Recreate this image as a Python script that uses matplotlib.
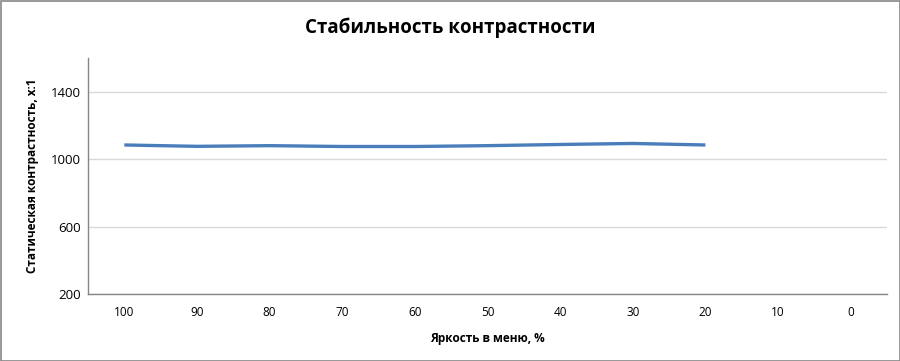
import matplotlib
matplotlib.use("Agg")
import matplotlib.pyplot as plt
from matplotlib.patches import Rectangle

categories = ["100", "90", "80", "70", "60", "50", "40", "30", "20", "10", "0"]
contrast = [1084, 1076, 1080, 1075, 1075, 1080, 1087, 1093, 1084]
yticks = [200, 600, 1000, 1400]

plt.rcParams['font.family'] = ['Open Sans', 'DejaVu Sans']

fig = plt.figure(figsize=(9, 3.61), dpi=100)
ax = fig.add_axes([88/900, 1-294/361, (887-88)/900, (294-58)/361])

x = list(range(len(contrast)))
ax.plot(x, contrast, color='#4a7ebb', linewidth=2.4, solid_capstyle='butt')

ax.set_xlim(-0.5, len(categories) - 0.5)
ax.set_ylim(200, 1600)
ax.set_xticks(range(len(categories)))
ax.set_xticklabels(categories, fontsize=8.5)
ax.set_yticks(yticks)
ax.set_yticklabels([str(v) for v in yticks], fontsize=9.5)
ax.tick_params(axis='both', length=0, pad=9, colors='#000000')
ax.tick_params(axis='y', pad=5)

ax.yaxis.grid(True, color='#d9d9d9', linewidth=1)
ax.set_axisbelow(True)
for s in ['top', 'right']:
    ax.spines[s].set_visible(False)
for s in ['left', 'bottom']:
    ax.spines[s].set_color('#868686')
    ax.spines[s].set_linewidth(1)

ax.set_xlabel('Яркость в меню, %', fontsize=8.5, fontweight='bold', labelpad=9)
ax.set_ylabel('Статическая контрастность, x:1', fontsize=8.5, fontweight='bold', labelpad=9)

fig.text(0.5, 1-28/361, 'Стабильность контрастности', ha='center', va='center',
         fontsize=13.5, fontweight='bold')

fig.patches.append(Rectangle((0.5/900, 0.5/361), 1-1/900, 1-1/361, transform=fig.transFigure,
                             fill=False, edgecolor='#868686', linewidth=1.2))

fig.savefig('out.png', dpi=100)
